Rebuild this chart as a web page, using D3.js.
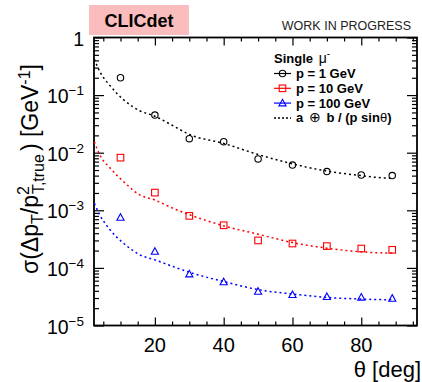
<!DOCTYPE html>
<html>
<head>
<meta charset="utf-8">
<script src="https://cdn.jsdelivr.net/npm/d3@7"></script>
<style>
  body { margin: 0; background: #fff; }
  svg text { font-family: "Liberation Sans", Arial, sans-serif; }
</style>
</head>
<body>
<svg id="chart" width="422" height="382"></svg>
<script>
// --- données ---
const thetaPoints = [10, 20, 30, 40, 50, 60, 70, 80, 89];
const res1GeV   = [0.20, 0.045, 0.0175, 0.0155, 0.0078, 0.0061, 0.0047, 0.0041, 0.0040];
const res10GeV  = [0.0082, 0.00203, 0.0008, 0.00055, 0.00030, 0.000265, 0.000239, 0.000217, 0.000206];
const res100GeV = [0.00075, 0.000193, 7.8e-5, 5.7e-5, 3.9e-5, 3.42e-5, 3.16e-5, 3.08e-5, 2.95e-5];

// courbes d'ajustement (lues point par point)
const fitTheta = [2.4, 4, 7, 11, 15.6, 20, 25, 30, 40, 50, 60, 70, 80, 85, 89];
const fit1GeV   = [0.42, 0.255, 0.145, 0.082, 0.0535, 0.043, 0.030, 0.0208, 0.0145, 0.0093, 0.0064, 0.0048, 0.0040, 0.0037, 0.0036];
const fit10GeV  = [0.0155, 0.0091, 0.0054, 0.0031, 0.00185, 0.00151, 0.00110, 0.00084, 0.000537, 0.000385, 0.000275, 0.00022, 0.00019, 0.000183, 0.000181];
const fit100GeV = [0.00132, 0.00083, 0.000455, 0.000265, 0.000169, 0.000138, 0.000107, 8.4e-5, 5.8e-5, 4.2e-5, 3.52e-5, 3.07e-5, 2.88e-5, 2.82e-5, 2.80e-5];

const xMajor = [20, 40, 60, 80];
const xMinor = [5, 10, 15, 25, 30, 35, 45, 50, 55, 65, 70, 75, 85, 90, 95];
const yMajor = [1, 1e-1, 1e-2, 1e-3, 1e-4, 1e-5];
const yExp = ['', '\u22121', '\u22122', '\u22123', '\u22124', '\u22125'];

const series = [
    { label: 'p = 1 GeV',   color: '#000000', shape: 'circle',   pts: res1GeV,   fit: fit1GeV },
    { label: 'p = 10 GeV',  color: '#ff0000', shape: 'square',   pts: res10GeV,  fit: fit10GeV },
    { label: 'p = 100 GeV', color: '#0000ff', shape: 'triangle', pts: res100GeV, fit: fit100GeV }
];

const svg = d3.select('#chart');

// cadre du graphe
const frameL = 94, frameR = 417, frameT = 37.5, frameB = 325.5;

const x = d3.scaleLinear().domain([2.3, 96.2]).range([frameL, frameR]);
const y = d3.scaleLog().domain([1e-5, 1]).range([frameB, frameT]);

// minor ticks log : 2..9 par décade
const yMinor = [];
for (let e = -5; e < 0; e++) {
    for (let k = 2; k <= 9; k++) yMinor.push(k * Math.pow(10, e));
}

function drawAxis(axis, tx, ty) {
    const g = svg.append('g')
        .attr('transform', `translate(${tx},${ty})`)
        .call(axis);
    g.selectAll('text').remove();
    g.select('.domain').remove();
    g.selectAll('line').attr('stroke', '#000').attr('stroke-width', 1.2);
    return g;
}

// ticks : bas / haut
drawAxis(d3.axisBottom(x).tickValues(xMajor).tickSize(-8), 0, frameB);
drawAxis(d3.axisBottom(x).tickValues(xMinor).tickSize(-4), 0, frameB);
drawAxis(d3.axisTop(x).tickValues(xMajor).tickSize(-8), 0, frameT);
drawAxis(d3.axisTop(x).tickValues(xMinor).tickSize(-4), 0, frameT);
// ticks : gauche / droite
drawAxis(d3.axisLeft(y).tickValues(yMajor).tickSize(-10), frameL, 0);
drawAxis(d3.axisLeft(y).tickValues(yMinor).tickSize(-5), frameL, 0);
drawAxis(d3.axisRight(y).tickValues(yMajor).tickSize(-10), frameR, 0);
drawAxis(d3.axisRight(y).tickValues(yMinor).tickSize(-5), frameR, 0);

svg.append('rect')
    .attr('x', frameL).attr('y', frameT)
    .attr('width', frameR - frameL).attr('height', frameB - frameT)
    .attr('fill', 'none').attr('stroke', '#000').attr('stroke-width', 1.8);

// labels x
svg.selectAll('.xlab')
    .data(xMajor)
    .enter()
    .append('text')
    .attr('class', 'xlab')
    .attr('x', d => x(d))
    .attr('y', frameB + 26.5)
    .attr('text-anchor', 'middle')
    .attr('font-size', 20)
    .text(d => d);

// labels y (10^n)
const ylab = svg.selectAll('.ylab')
    .data(yMajor)
    .enter()
    .append('text')
    .attr('class', 'ylab')
    .attr('x', 84)
    .attr('y', d => y(d) + 8)
    .attr('text-anchor', 'end')
    .attr('font-size', 19.5);

ylab.each(function(d, i) {
    const t = d3.select(this);
    if (i === 0) {
        t.text('1');
    } else {
        t.append('tspan').text('10');
        t.append('tspan').attr('dy', -8).attr('font-size', 13.5).text(yExp[i]);
    }
});

// titres des axes
const ytitle = svg.append('text')
    .attr('transform', 'translate(38,169) rotate(-90)')
    .attr('text-anchor', 'middle')
    .attr('font-size', 23);
ytitle.append('tspan').text('\u03c3(\u0394p');
ytitle.append('tspan').attr('font-size', 16).attr('dy', 5).text('T');
ytitle.append('tspan').attr('dy', -5).text('/p');
ytitle.append('tspan').attr('font-size', 16).attr('dy', -9).text('2');
ytitle.append('tspan').attr('font-size', 16).attr('dx', -8).attr('dy', 15).text('T,true');
ytitle.append('tspan').attr('dy', -6).attr('dx', 3).text(') [GeV');
ytitle.append('tspan').attr('font-size', 16).attr('dy', -8).text('-1');
ytitle.append('tspan').attr('dy', 8).text(']');

svg.append('text')
    .attr('x', 421)
    .attr('y', 377)
    .attr('text-anchor', 'end')
    .attr('font-size', 22)
    .text('\u03b8 [deg]');

// courbes d'ajustement
const line = d3.line()
    .x(d => x(d[0]))
    .y(d => y(d[1]))
    .curve(d3.curveMonotoneX);

series.forEach(s => {
    svg.append('path')
        .datum(fitTheta.map((t, i) => [t, s.fit[i]]))
        .attr('d', line)
        .attr('fill', 'none')
        .attr('stroke', s.color)
        .attr('stroke-width', 1.5)
        .attr('stroke-dasharray', '2,3');
});

// marqueurs
function marker(g, shape, color) {
    if (shape === 'circle') {
        g.append('circle').attr('r', 3.2);
    } else if (shape === 'square') {
        g.append('rect').attr('x', -3.3).attr('y', -3.3).attr('width', 6.6).attr('height', 6.6);
    } else {
        g.append('path').attr('d', 'M0,-3.8L3.6,2.8L-3.6,2.8Z');
    }
    g.selectAll('*')
        .attr('fill', 'none')
        .attr('stroke', color)
        .attr('stroke-width', 1.1);
}

series.forEach(s => {
    s.pts.forEach((v, i) => {
        const g = svg.append('g')
            .attr('transform', `translate(${x(thetaPoints[i])},${y(v)})`);
        marker(g, s.shape, s.color);
    });
});

// légende
const legX = 274;
const head = svg.append('text')
    .attr('x', legX).attr('y', 63)
    .attr('font-size', 13).attr('font-weight', 'bold');
head.append('tspan').text('Single ');
head.append('tspan').attr('font-weight', 'normal').attr('font-size', 14).attr('dx', 2).text('\u03bc');
head.append('tspan').attr('font-weight', 'normal').attr('font-size', 10).attr('dy', -6).text('-');

series.forEach((s, i) => {
    const yy = 73.5 + i * 14.8;
    svg.append('line')
        .attr('x1', legX).attr('x2', legX + 17)
        .attr('y1', yy).attr('y2', yy)
        .attr('stroke', s.color).attr('stroke-width', 1.2);
    const g = svg.append('g').attr('transform', `translate(${legX + 8.5},${yy})`);
    marker(g, s.shape, s.color);
    svg.append('text')
        .attr('x', 296).attr('y', yy + 4.5)
        .attr('font-size', 13).attr('font-weight', 'bold')
        .text(s.label);
});

const yf = 73.5 + 3 * 14.8;
svg.append('line')
    .attr('x1', legX).attr('x2', legX + 17)
    .attr('y1', yf).attr('y2', yf)
    .attr('stroke', '#000').attr('stroke-width', 1.5)
    .attr('stroke-dasharray', '2,2');
const ftxt = svg.append('text')
    .attr('x', 296).attr('y', yf + 4.5)
    .attr('font-size', 13).attr('font-weight', 'bold');
ftxt.append('tspan').text('a ');
ftxt.append('tspan').attr('font-weight', 'normal').attr('font-size', 14).attr('dx', 2).text('\u2295');
ftxt.append('tspan').attr('dx', 2).text(' b / (p sin');
ftxt.append('tspan').attr('font-weight', 'normal').text('\u03b8');
ftxt.append('tspan').text(')');

// bandeau CLICdet
svg.append('rect')
    .attr('x', 89).attr('y', 5)
    .attr('width', 100).attr('height', 30)
    .attr('fill', '#fabcbc');
svg.append('text')
    .attr('x', 139).attr('y', 27)
    .attr('text-anchor', 'middle')
    .attr('font-size', 18).attr('font-weight', 'bold')
    .text('CLICdet');

svg.append('text')
    .attr('x', 411).attr('y', 30)
    .attr('text-anchor', 'end')
    .attr('font-size', 12.5)
    .attr('fill', '#222')
    .text('WORK IN PROGRESS');
</script>
</body>
</html>
